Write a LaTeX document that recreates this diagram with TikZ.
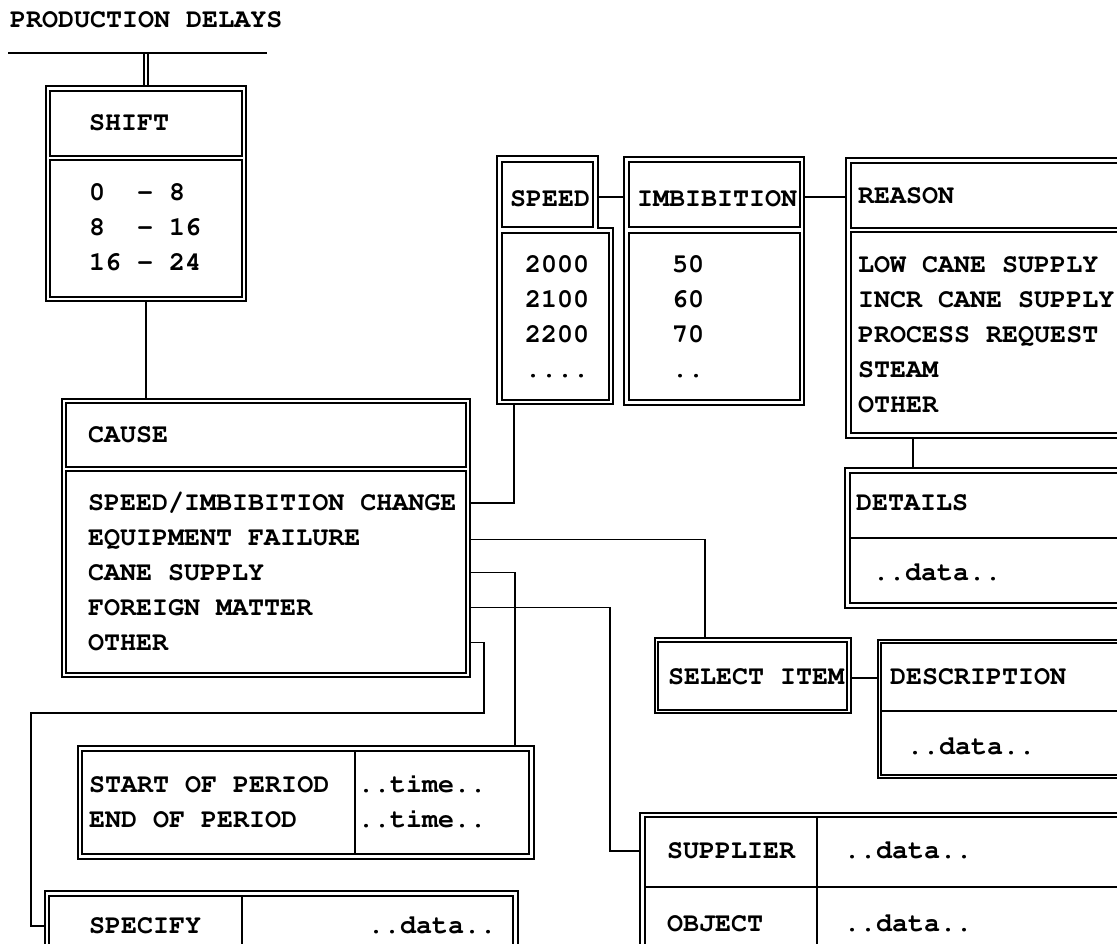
\documentclass[tikz,border=0pt]{standalone}
\usepackage[T1]{fontenc}
\usetikzlibrary{calc}
\begin{document}
\begin{tikzpicture}[x=1pt,y=-1pt,
  every node/.style={font=\fontsize{26.7}{32}\fontfamily{pcr}\bfseries\selectfont, inner sep=0pt, outer sep=0pt},
  lbl/.style={anchor=base west, yshift=-7.5pt},
  dat/.style={anchor=base west, yshift=-7.5pt},
  obox/.style={draw, line width=1.4pt, anchor=north west},
  shapeonly/.style={anchor=north west},
  oline/.style={line width=1.4pt},
  ibox/.style={line width=1.1pt},
  conn/.style={line width=1.3pt}]
\path[use as bounding box] (0,0) rectangle (1117,943);
\clip (0,0) rectangle (1117,943);

% title
\node[lbl] (title) at (10,20) {PRODUCTION DELAYS};
\coordinate (tl) at (8,53);
\coordinate (tr) at (267,53);
\draw[conn] (tl) -- (tr);

% SHIFT
\node[obox, minimum width=200pt, minimum height=215pt] (shift) at (46,86) {};
\draw[ibox] (50,91) rectangle (242,156);
\draw[ibox] (50,160) rectangle (242,297);
\node[lbl] (tshift) at (89,123) {SHIFT};
\node[lbl] (s1) at (89,193) {0\ \ - 8};
\node[lbl] (s2) at (89,228) {8\ \ - 16};
\node[lbl] (s3) at (89,263) {16 - 24};
\draw[conn] ([xshift=-2pt]shift.north |- tl) -- ([xshift=-2pt]shift.north);
\draw[conn] ([xshift=2pt]shift.north |- tl) -- ([xshift=2pt]shift.north);

% CAUSE
\node[obox, minimum width=408pt, minimum height=278pt] (cause) at (62,399) {};
\draw[ibox] (66,403) rectangle (466,467);
\draw[ibox] (66,471) rectangle (466,673);
\node[lbl] (tcause) at (88,435) {CAUSE};
\node[lbl] (c1) at (88,503) {SPEED/IMBIBITION CHANGE};
\node[lbl] (c2) at (88,538) {EQUIPMENT FAILURE};
\node[lbl] (c3) at (88,573) {CANE SUPPLY};
\node[lbl] (c4) at (88,608) {FOREIGN MATTER};
\node[lbl] (c5) at (88,643) {OTHER};
\draw[conn] (shift.south) -- (shift.south |- cause.north);

% SPEED
\node[shapeonly, minimum width=101pt, minimum height=72pt] (speedh) at (497,156) {};
\node[shapeonly, minimum width=116pt, minimum height=176pt] (speedb) at (497,228) {};
\draw[oline] (speedh.north west) -- (speedh.north east) -- (speedh.south east)
  -- (speedb.north east) -- (speedb.south east) -- (speedb.south west) -- cycle;
\draw[ibox] (502,162) rectangle (593,227);
\draw[ibox] (502,233) rectangle (609,400);
\node[lbl] (tspeed) at (510,199) {SPEED};
\node[dat] (v1) at (525,265) {2000};
\node[dat] (v2) at (525,300) {2100};
\node[dat] (v3) at (525,335) {2200};
\node[dat] (v4) at (525,370) {....};

% IMBIBITION
\node[obox, minimum width=180pt, minimum height=248pt] (imb) at (624,157) {};
\draw[ibox] (629,162) rectangle (800,227);
\draw[ibox] (629,233) rectangle (800,400);
\node[lbl] (timb) at (637,199) {IMBIBITION};
\node[dat] (i1) at (672,265) {50};
\node[dat] (i2) at (672,300) {60};
\node[dat] (i3) at (672,335) {70};
\node[dat] (i4) at (672,370) {..};

% REASON
\node[obox, minimum width=290pt, minimum height=280pt] (reason) at (846,158) {};
\draw[ibox] (851,163) rectangle (1131,228);
\draw[ibox] (851,232) rectangle (1131,433);
\node[lbl] (treason) at (858,196) {REASON};
\node[lbl] (r1) at (858,265) {LOW CANE SUPPLY};
\node[lbl] (r2) at (858,300) {INCR CANE SUPPLY};
\node[lbl] (r3) at (858,335) {PROCESS REQUEST};
\node[lbl] (r4) at (858,370) {STEAM};
\node[lbl] (r5) at (858,405) {OTHER};

% DETAILS
\node[obox, minimum width=291pt, minimum height=140pt] (details) at (845,468) {};
\draw[ibox] (850,473) rectangle (1131,603);
\draw[ibox] (850,538) -- (1131,538);
\node[lbl] (tdetails) at (856,503) {DETAILS};
\node[dat] (ddata) at (873,573) {..data..};

% SELECT ITEM
\node[obox, minimum width=196pt, minimum height=75pt] (selitem) at (655,638) {};
\draw[ibox] (658,642) rectangle (847,710);
\node[lbl] (tsel) at (668,677) {SELECT ITEM};

% DESCRIPTION
\node[obox, minimum width=258pt, minimum height=138pt] (desc) at (878,640) {};
\draw[ibox] (881,643) rectangle (1131,775);
\draw[ibox] (881,711) -- (1131,711);
\node[lbl] (tdesc) at (890,677) {DESCRIPTION};
\node[dat] (descdata) at (907,747) {..data..};

% START / END OF PERIOD
\node[obox, minimum width=456pt, minimum height=113pt] (start) at (78,746) {};
\draw[ibox] (82,751) rectangle (529,854);
\draw[ibox] (355,751) -- (355,854);
\node[lbl] (tstart) at (89,785) {START OF PERIOD};
\node[lbl] (tend) at (89,820) {END OF PERIOD};
\node[dat] (time1) at (358,785) {..time..};
\node[dat] (time2) at (358,820) {..time..};

% SPECIFY
\node[obox, minimum width=473pt, minimum height=70pt] (spec) at (45,891) {};
\draw[ibox] (49,896) rectangle (513,956);
\draw[ibox] (242,896) -- (242,956);
\node[lbl] (tspec) at (89,926) {SPECIFY};
\node[dat] (specdata) at (368,926) {..data..};

% SUPPLIER / OBJECT
\node[obox, minimum width=496pt, minimum height=150pt] (supbox) at (640,813) {};
\draw[ibox] (645,817) rectangle (1131,958);
\draw[ibox] (817,817) -- (817,958);
\draw[ibox] (645,887) -- (1131,887);
\node[lbl] (tsup) at (667,851) {SUPPLIER};
\node[lbl] (tobj) at (667,924) {OBJECT};
\node[dat] (supdata) at (844,851) {..data..};
\node[dat] (objdata) at (844,924) {..data..};

% connectors
\coordinate (yspeed) at (0,197);
\coordinate (ysel) at (0,678);
\coordinate (ysup) at (0,851);
\coordinate (yspec) at (0,926);
\draw[conn] (cause.east |- c1) -| ([xshift=17pt]speedb.south west);
\draw[conn] (speedh.east |- yspeed) -- (imb.west |- yspeed);
\draw[conn] (imb.east |- yspeed) -- (reason.west |- yspeed);
\draw[conn] ([xshift=67pt]reason.south west) -- ([xshift=67pt]reason.south west |- details.north);
\draw[conn] (cause.east |- c2) -| ([xshift=50pt]selitem.north west);
\draw[conn] (selitem.east |- ysel) -- (desc.west |- ysel);
\draw[conn] (cause.east |- c3) -| ([xshift=-19pt]start.north east);
\draw[conn] (cause.east |- c4) -- ++(140,0) |- (supbox.west |- ysup);
\coordinate (obend) at (31,713);
\draw[conn] (cause.east |- c5) -- ++(14,0) |- (obend) |- (spec.west |- yspec);
\end{tikzpicture}
\end{document}
